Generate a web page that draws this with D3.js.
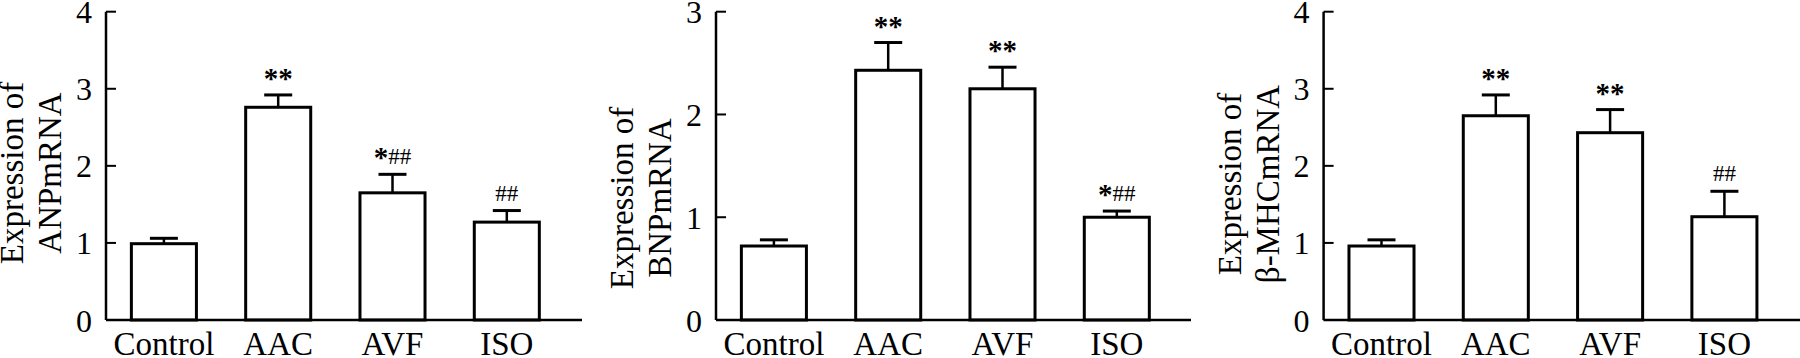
<!DOCTYPE html>
<html>
<head>
<meta charset="utf-8">
<script src="https://cdn.jsdelivr.net/npm/d3@7"></script>
<style>
  body { margin: 0; background: #fff; }
  text { font-family: "Liberation Serif", "Times New Roman", serif; fill: #000; }
</style>
</head>
<body>
<div id="chart"></div>
<script>
// groups on the x axis (same in all three panels)
var groups = ["Control", "AAC", "AVF", "ISO"];

// y axis titles, two lines each
var titleANP = ["Expression of", "ANPmRNA"];
var titleBNP = ["Expression of", "BNPmRNA"];
var titleMHC = ["Expression of", "β-MHCmRNA"];

// tick values of the y axes
var ticksANP = [0, 1, 2, 3, 4];
var ticksBNP = [0, 1, 2, 3];
var ticksMHC = [0, 1, 2, 3, 4];

// means and error (upper bar only)
var meanANP = [0.99, 2.76, 1.65, 1.27];
var errANP  = [0.07, 0.16, 0.24, 0.15];
var meanBNP = [0.72, 2.43, 2.25, 1.00];
var errBNP  = [0.06, 0.27, 0.21, 0.06];
var meanMHC = [0.96, 2.65, 2.43, 1.34];
var errMHC  = [0.08, 0.27, 0.30, 0.33];

// significance marks
var markANP = ["", "**", "*##", "##"];
var markBNP = ["", "**", "**", "*##"];
var markMHC = ["", "**", "**", "##"];

function main() {

    var W = 1800, H = 358;
    var top = 11.7, bottom = 320;

    var svg = d3.select("#chart").append("svg")
        .attr("width", W)
        .attr("height", H);

    // layout of each panel (axis position, end of x axis, vertical centre of title)
    var panels = [
        {axisX: 106,    axisEnd: 582,  titleY: 173, title: titleANP, ticks: ticksANP, mean: meanANP, err: errANP, mark: markANP},
        {axisX: 716,    axisEnd: 1191, titleY: 198, title: titleBNP, ticks: ticksBNP, mean: meanBNP, err: errBNP, mark: markBNP},
        {axisX: 1323.6, axisEnd: 1800, titleY: 184, title: titleMHC, ticks: ticksMHC, mean: meanMHC, err: errMHC, mark: markMHC}
    ];

    panels.forEach(function(p) {

        var g = svg.append("g");

        var xScale = d3.scaleBand()
            .domain(groups)
            .range([p.axisX, p.axisX + 458.7])
            .paddingInner(0.431)
            .paddingOuter(0.222);

        var yScale = d3.scaleLinear()
            .domain([0, d3.max(p.ticks)])
            .range([bottom, top]);

        var rows = groups.map(function(k, i) {
            return {name: k, v: p.mean[i], e: p.err[i], m: p.mark[i]};
        });

        // bars
        g.selectAll(".bar")
            .data(rows)
            .enter().append("rect")
            .attr("class", "bar")
            .attr("x", function(d) { return xScale(d.name); })
            .attr("y", function(d) { return yScale(d.v); })
            .attr("width", xScale.bandwidth())
            .attr("height", function(d) { return yScale(0) - yScale(d.v); })
            .attr("fill", "white")
            .attr("stroke", "black")
            .attr("stroke-width", 3);

        // error bars
        var cx = function(d) { return xScale(d.name) + xScale.bandwidth() / 2; };
        g.selectAll(".ebar")
            .data(rows)
            .enter().append("line")
            .attr("x1", cx).attr("x2", cx)
            .attr("y1", function(d) { return yScale(d.v); })
            .attr("y2", function(d) { return yScale(d.v + d.e); })
            .attr("stroke", "black")
            .attr("stroke-width", 2.5);

        g.selectAll(".ecap")
            .data(rows)
            .enter().append("line")
            .attr("x1", function(d) { return cx(d) - 14; })
            .attr("x2", function(d) { return cx(d) + 14; })
            .attr("y1", function(d) { return yScale(d.v + d.e); })
            .attr("y2", function(d) { return yScale(d.v + d.e); })
            .attr("stroke", "black")
            .attr("stroke-width", 3);

        // significance marks
        var marks = g.selectAll(".mark")
            .data(rows.filter(function(d) { return d.m !== ""; }))
            .enter().append("text")
            .attr("text-anchor", "middle")
            .attr("x", cx)
            .attr("y", function(d) { return yScale(d.v + d.e) - 10; })
            .style("font-size", "23px");

        marks.each(function(d) {
            var t = d3.select(this);
            d.m.split("").forEach(function(c) {
                var s = t.append("tspan").text(c);
                if (c === "*") {
                    s.style("font-size", "29px")
                     .style("font-weight", "bold")
                     .attr("baseline-shift", "-3px");
                }
            });
        });

        // axes
        g.append("line")
            .attr("x1", p.axisX).attr("x2", p.axisX)
            .attr("y1", top).attr("y2", bottom)
            .attr("stroke", "black").attr("stroke-width", 2.5);

        g.append("line")
            .attr("x1", p.axisX).attr("x2", p.axisEnd)
            .attr("y1", bottom).attr("y2", bottom)
            .attr("stroke", "black").attr("stroke-width", 2.5);

        g.selectAll(".tick")
            .data(p.ticks)
            .enter().append("line")
            .attr("x1", p.axisX).attr("x2", p.axisX + 10)
            .attr("y1", function(d) { return yScale(d); })
            .attr("y2", function(d) { return yScale(d); })
            .attr("stroke", "black").attr("stroke-width", 2);

        g.selectAll(".tlabel")
            .data(p.ticks)
            .enter().append("text")
            .attr("text-anchor", "end")
            .attr("x", p.axisX - 14)
            .attr("y", function(d) { return yScale(d); })
            .attr("dy", "0.36em")
            .style("font-size", "32px")
            .text(function(d) { return d; });

        // x labels
        g.selectAll(".xlabel")
            .data(groups)
            .enter().append("text")
            .attr("text-anchor", "middle")
            .attr("x", function(d) { return xScale(d) + xScale.bandwidth() / 2; })
            .attr("y", 355)
            .style("font-size", "33px")
            .text(function(d) { return d; });

        // y title
        p.title.forEach(function(line, i) {
            g.append("text")
                .attr("text-anchor", "middle")
                .attr("transform", "translate(" + (p.axisX - 83 + i * 38) + "," + p.titleY + ") rotate(-90)")
                .style("font-size", "33px")
                .text(line);
        });
    });
}

main();
</script>
</body>
</html>
